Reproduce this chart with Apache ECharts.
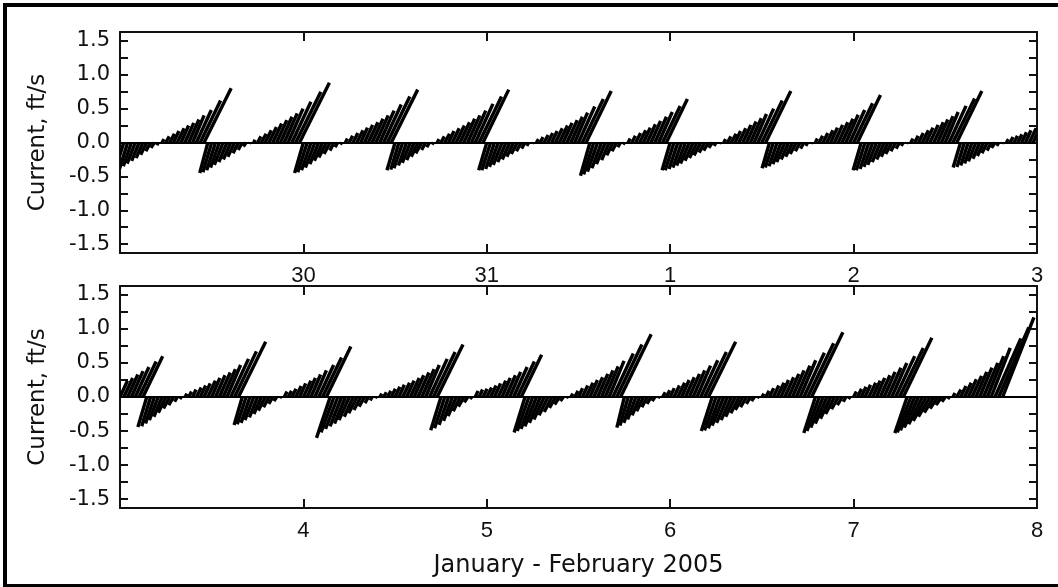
<!DOCTYPE html>
<html><head><meta charset="utf-8">
<script src="https://cdn.jsdelivr.net/npm/echarts@6/dist/echarts.min.js"></script>
<style>html,body{margin:0;padding:0;background:#fff}#c{width:1058px;height:587px}</style>
</head><body><div id="c"></div>
<script>
// ---- data (current vectors, ft/s, every 30 min) ----
const SAMPLE_HOURS = 0.5;
const TOP_START_HOUR = 0;      // Jan 29 00:00
const BOTTOM_START_HOUR = 120; // Feb 3 00:00
const dayLabels = ['29','30','31','1','2','3','4','5','6','7','8'];
const yLabelValues = [-1.5,-1,-0.5,0,0.5,1,1.5];
const yTickValues = [-1.5,-1.25,-1,-0.75,-0.5,-0.25,0,0.25,0.5,0.75,1,1.25,1.5];

// north (vertical) component, Jan 29 - Feb 3
const vTop = [
 -0.44,-0.42,-0.39,-0.35,-0.31,-0.27,-0.23,-0.18,-0.13,-0.08,-0.04,
 0.05,0.09,0.13,0.17,0.21,0.25,0.29,0.34,0.40,0.48,0.62,0.80,
 -0.45,-0.44,-0.41,-0.37,-0.33,-0.29,-0.25,-0.21,-0.16,-0.11,-0.06,-0.02,
 0.04,0.09,0.13,0.18,0.23,0.28,0.33,0.38,0.43,0.50,0.60,0.75,0.88,
 -0.45,-0.44,-0.41,-0.37,-0.32,-0.27,-0.22,-0.17,-0.12,-0.07,-0.03,
 0.06,0.10,0.14,0.18,0.22,0.26,0.30,0.35,0.40,0.47,0.56,0.68,0.78,
 -0.41,-0.40,-0.38,-0.34,-0.30,-0.26,-0.21,-0.16,-0.11,-0.07,-0.03,
 0.05,0.09,0.13,0.17,0.21,0.25,0.30,0.35,0.40,0.47,0.57,0.68,0.78,
 -0.41,-0.41,-0.39,-0.36,-0.33,-0.29,-0.25,-0.21,-0.17,-0.13,-0.09,-0.05,-0.02,
 0.05,0.08,0.11,0.14,0.17,0.21,0.25,0.29,0.33,0.38,0.44,0.53,0.64,0.76,
 -0.49,-0.47,-0.43,-0.38,-0.32,-0.26,-0.19,-0.13,-0.07,-0.03,
 0.06,0.10,0.14,0.18,0.22,0.27,0.32,0.38,0.45,0.54,0.64,
 -0.41,-0.41,-0.39,-0.37,-0.34,-0.31,-0.27,-0.23,-0.19,-0.15,-0.12,-0.08,-0.05,-0.02,
 0.05,0.09,0.13,0.17,0.21,0.26,0.31,0.36,0.42,0.50,0.62,0.76,
 -0.38,-0.37,-0.35,-0.32,-0.29,-0.25,-0.21,-0.17,-0.13,-0.09,-0.05,-0.02,
 0.06,0.10,0.14,0.18,0.22,0.26,0.30,0.35,0.41,0.48,0.58,0.70,
 -0.41,-0.41,-0.39,-0.36,-0.33,-0.29,-0.25,-0.21,-0.17,-0.13,-0.09,-0.05,-0.02,
 0.06,0.10,0.14,0.18,0.22,0.26,0.30,0.34,0.39,0.45,0.54,0.65,0.76,
 -0.37,-0.36,-0.34,-0.31,-0.28,-0.24,-0.20,-0.16,-0.12,-0.08,-0.05,-0.02,
 0.05,0.08,0.10,0.12,0.15,0.18,0.21,0.24
];
// east (horizontal) component, Jan 29 - Feb 3
const uTop = [
 -0.13,-0.13,-0.12,-0.12,-0.12,-0.11,-0.10,-0.09,-0.07,-0.05,-0.02,
 0.03,0.05,0.07,0.08,0.10,0.11,0.13,0.15,0.17,0.22,0.30,0.40,
 -0.12,-0.13,-0.13,-0.13,-0.13,-0.12,-0.11,-0.10,-0.08,-0.06,-0.04,-0.01,
 0.02,0.05,0.07,0.09,0.11,0.13,0.15,0.17,0.19,0.22,0.28,0.37,0.44,
 -0.13,-0.14,-0.14,-0.14,-0.13,-0.12,-0.11,-0.09,-0.06,-0.04,-0.02,
 0.03,0.05,0.07,0.09,0.10,0.12,0.14,0.16,0.18,0.21,0.26,0.33,0.39,
 -0.12,-0.12,-0.13,-0.12,-0.12,-0.11,-0.10,-0.09,-0.06,-0.04,-0.02,
 0.03,0.05,0.07,0.08,0.10,0.12,0.14,0.16,0.18,0.21,0.26,0.33,0.38,
 -0.12,-0.13,-0.13,-0.13,-0.13,-0.12,-0.11,-0.10,-0.09,-0.07,-0.05,-0.03,-0.01,
 0.03,0.04,0.06,0.07,0.08,0.10,0.12,0.13,0.15,0.17,0.19,0.24,0.31,0.37,
 -0.14,-0.15,-0.15,-0.14,-0.13,-0.11,-0.09,-0.07,-0.04,-0.02,
 0.03,0.05,0.07,0.09,0.10,0.12,0.14,0.17,0.20,0.26,0.31,
 -0.12,-0.13,-0.13,-0.13,-0.13,-0.13,-0.12,-0.11,-0.10,-0.08,-0.07,-0.05,-0.03,-0.01,
 0.03,0.05,0.07,0.08,0.10,0.12,0.14,0.16,0.18,0.23,0.30,0.37,
 -0.11,-0.12,-0.12,-0.12,-0.12,-0.11,-0.10,-0.09,-0.07,-0.05,-0.03,-0.01,
 0.03,0.05,0.07,0.09,0.10,0.12,0.14,0.16,0.18,0.22,0.28,0.34,
 -0.12,-0.13,-0.13,-0.13,-0.13,-0.12,-0.11,-0.10,-0.09,-0.07,-0.05,-0.03,-0.01,
 0.03,0.05,0.07,0.09,0.10,0.12,0.14,0.15,0.17,0.19,0.25,0.32,0.37,
 -0.11,-0.11,-0.11,-0.11,-0.11,-0.10,-0.09,-0.08,-0.06,-0.05,-0.03,-0.01,
 0.03,0.04,0.05,0.06,0.07,0.08,0.10,0.11
];
// north component, Feb 3 - Feb 8
const vBottom = [
 0.24,0.28,0.33,0.38,0.44,0.52,0.60,
 -0.44,-0.43,-0.39,-0.34,-0.29,-0.23,-0.17,-0.12,-0.07,-0.03,
 0.05,0.08,0.11,0.14,0.17,0.20,0.24,0.28,0.32,0.36,0.41,0.47,0.56,0.67,0.81,
 -0.41,-0.40,-0.38,-0.34,-0.30,-0.25,-0.20,-0.15,-0.10,-0.06,-0.02,
 0.08,0.09,0.12,0.16,0.20,0.24,0.28,0.33,0.39,0.47,0.58,0.74,
 -0.60,-0.52,-0.47,-0.43,-0.39,-0.34,-0.29,-0.24,-0.19,-0.14,-0.09,-0.05,-0.02,
 0.05,0.07,0.09,0.12,0.15,0.18,0.21,0.24,0.28,0.32,0.36,0.41,0.47,0.56,0.66,0.77,
 -0.49,-0.46,-0.41,-0.35,-0.28,-0.21,-0.14,-0.08,-0.03,
 0.09,0.11,0.12,0.14,0.17,0.20,0.24,0.28,0.32,0.37,0.44,0.52,0.62,
 -0.52,-0.50,-0.47,-0.43,-0.38,-0.33,-0.27,-0.22,-0.16,-0.11,-0.06,-0.02,
 0.05,0.09,0.13,0.17,0.21,0.25,0.29,0.34,0.39,0.45,0.53,0.64,0.77,0.92,
 -0.45,-0.42,-0.38,-0.33,-0.27,-0.21,-0.15,-0.10,-0.06,-0.02,
 0.07,0.10,0.13,0.17,0.21,0.25,0.29,0.34,0.39,0.46,0.54,0.66,0.81,
 -0.50,-0.49,-0.46,-0.42,-0.38,-0.34,-0.29,-0.24,-0.19,-0.15,-0.10,-0.06,-0.02,
 0.05,0.09,0.13,0.17,0.21,0.25,0.29,0.34,0.39,0.46,0.54,0.65,0.79,0.95,
 -0.53,-0.50,-0.45,-0.39,-0.32,-0.25,-0.18,-0.12,-0.07,-0.03,
 0.08,0.12,0.15,0.18,0.21,0.24,0.28,0.32,0.37,0.43,0.50,0.60,0.72,0.87,
 -0.53,-0.52,-0.49,-0.45,-0.40,-0.35,-0.29,-0.23,-0.17,-0.12,-0.07,-0.03,
 0.06,0.11,0.16,0.21,0.26,0.31,0.37,0.43,0.50,0.60,0.72,0.86,1.02,1.17
];
// east component, Feb 3 - Feb 8
const uBottom = [
 0.11,0.13,0.15,0.17,0.20,0.25,0.29,
 -0.13,-0.13,-0.13,-0.13,-0.12,-0.11,-0.09,-0.07,-0.04,-0.02,
 0.03,0.04,0.05,0.07,0.08,0.09,0.11,0.12,0.14,0.16,0.18,0.20,0.26,0.32,0.40,
 -0.12,-0.13,-0.13,-0.13,-0.12,-0.11,-0.10,-0.08,-0.06,-0.04,-0.01,
 0.04,0.05,0.06,0.08,0.09,0.11,0.12,0.14,0.17,0.22,0.28,0.36,
 -0.20,-0.19,-0.18,-0.17,-0.16,-0.15,-0.13,-0.12,-0.10,-0.08,-0.05,-0.03,-0.01,
 0.03,0.04,0.05,0.06,0.07,0.08,0.10,0.11,0.13,0.14,0.16,0.18,0.20,0.26,0.32,0.38,
 -0.15,-0.15,-0.14,-0.13,-0.12,-0.10,-0.08,-0.05,-0.02,
 0.04,0.05,0.06,0.07,0.08,0.09,0.11,0.12,0.14,0.16,0.20,0.25,0.30,
 -0.16,-0.17,-0.17,-0.17,-0.16,-0.15,-0.13,-0.11,-0.09,-0.07,-0.04,-0.01,
 0.03,0.05,0.06,0.08,0.10,0.11,0.13,0.15,0.17,0.19,0.22,0.30,0.37,0.45,
 -0.11,-0.12,-0.12,-0.12,-0.11,-0.10,-0.08,-0.06,-0.04,-0.01,
 0.04,0.05,0.06,0.08,0.10,0.11,0.13,0.15,0.17,0.20,0.25,0.32,0.40,
 -0.16,-0.17,-0.17,-0.17,-0.16,-0.15,-0.14,-0.12,-0.11,-0.09,-0.06,-0.04,-0.01,
 0.03,0.05,0.06,0.08,0.10,0.11,0.13,0.15,0.17,0.20,0.23,0.30,0.38,0.46,
 -0.17,-0.18,-0.18,-0.17,-0.15,-0.13,-0.10,-0.07,-0.04,-0.02,
 0.04,0.06,0.07,0.08,0.10,0.11,0.12,0.14,0.16,0.19,0.22,0.28,0.35,0.42,
 -0.18,-0.20,-0.21,-0.21,-0.20,-0.19,-0.17,-0.14,-0.11,-0.08,-0.05,-0.02,
 0.03,0.06,0.08,0.10,0.12,0.14,0.16,0.18,0.21,0.24,0.28,0.38,0.44,0.46
];

// ---- chart ----
function build(v, u, startHour) {
  return v.map((vv, i) => [(startHour + i * SAMPLE_HOURS) / 24, vv, u[i]]);
}
const FONT_NUM = 'DejaVu Sans';
const INK = '#111';

function renderStick(params, api) {
  const t = api.value(0), v = api.value(1), u = api.value(2);
  const base = api.coord([t, 0]);
  const tip = api.coord([t, v]);
  const unit = api.size([0, 1])[1]; // pixels per ft/s, same scale used for u
  return {
    type: 'line',
    shape: { x1: base[0], y1: base[1], x2: base[0] + u * unit, y2: tip[1] },
    style: { stroke: '#000', lineWidth: 3.4 }
  };
}

function xAxes(gridIndex, minDay, showName) {
  const common = {
    type: 'value', gridIndex, min: minDay, max: minDay + 5, interval: 1,
    axisLine: { show: true, onZero: false, lineStyle: { color: INK, width: 2 } },
    axisTick: { show: true, inside: true, length: 9, lineStyle: { color: INK, width: 2 } },
    splitLine: { show: false }
  };
  return [
    Object.assign({}, common, {
      position: 'bottom',
      axisLabel: { show: true, showMinLabel: false, margin: 12, color: INK,
        fontFamily: 'Liberation Sans', fontSize: 22,
        formatter: (val) => dayLabels[Math.round(val)] },
      name: showName ? 'January - February 2005' : '',
      nameLocation: 'middle', nameGap: 46,
      nameTextStyle: { color: INK, fontFamily: FONT_NUM, fontSize: 24 }
    }),
    Object.assign({}, common, { position: 'top', axisLabel: { show: false } })
  ];
}
function yAxes(gridIndex) {
  const common = {
    type: 'value', gridIndex, min: -1.63, max: 1.63,
    axisLine: { show: true, onZero: false, lineStyle: { color: INK, width: 2 } },
    axisTick: { show: true, inside: true, length: 8, customValues: yTickValues, lineStyle: { color: INK, width: 2 } },
    splitLine: { show: false }
  };
  return [
    Object.assign({}, common, {
      position: 'left',
      axisLabel: { show: true, customValues: yLabelValues, margin: 10, color: INK,
        fontFamily: FONT_NUM, fontSize: 21, formatter: (val) => val.toFixed(1) },
      name: 'Current, ft/s', nameLocation: 'middle', nameGap: 70, nameRotate: 90,
      nameTextStyle: { color: INK, fontFamily: FONT_NUM, fontSize: 23 }
    }),
    Object.assign({}, common, { position: 'right', axisLabel: { show: false } })
  ];
}

const zeroLine = {
  silent: true, symbol: 'none', label: { show: false },
  lineStyle: { color: '#000', width: 2, type: 'solid' },
  data: [{ yAxis: 0 }]
};

const chart = echarts.init(document.getElementById('c'), null, { renderer: 'canvas' });
chart.setOption({
  animation: false,
  backgroundColor: '#fff',
  grid: [
    { left: 120, top: 32, width: 917, height: 221 },
    { left: 120, top: 286, width: 917, height: 222 }
  ],
  xAxis: [...xAxes(0, 0, false), ...xAxes(1, 5, true)],
  yAxis: [...yAxes(0), ...yAxes(1)],
  series: [
    { type: 'custom', xAxisIndex: 0, yAxisIndex: 0, clip: true, renderItem: renderStick,
      encode: { x: 0, y: 1 }, data: build(vTop, uTop, TOP_START_HOUR), markLine: zeroLine },
    { type: 'custom', xAxisIndex: 2, yAxisIndex: 2, clip: true, renderItem: renderStick,
      encode: { x: 0, y: 1 }, data: build(vBottom, uBottom, BOTTOM_START_HOUR), markLine: zeroLine }
  ],
  graphic: [
    { type: 'rect', silent: true, z: 100,
      shape: { x: 5, y: 5, width: 1060, height: 581 },
      style: { fill: null, stroke: '#000', lineWidth: 4 } }
  ]
});
</script>
</body></html>
